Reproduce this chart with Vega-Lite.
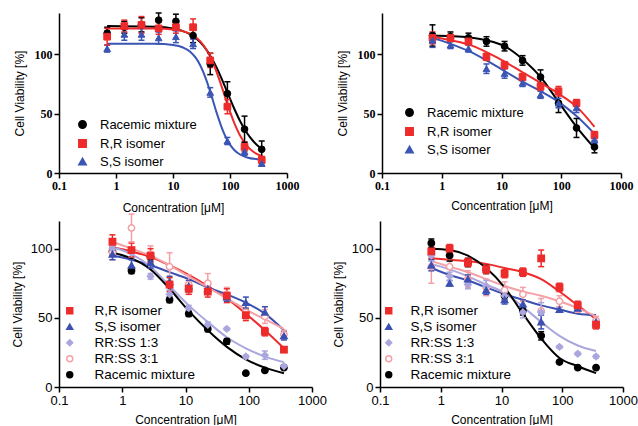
{
"$schema": "https://vega.github.io/schema/vega-lite/v6.json",
"background": "white",
"padding": {"left": 11, "top": 12, "right": 0, "bottom": 0},
"config": {
  "view": {"stroke": null},
  "axis": {"grid": false, "domainColor": "black", "domainWidth": 1.5, "tickColor": "black", "tickWidth": 1.5, "tickSize": 5, "labelColor": "black", "titleColor": "black", "titleFont": "Liberation Sans", "titleFontWeight": "normal", "titleFontSize": 12, "labelFlush": false, "labelOverlap": false}
},
"datasets": {
  "pts": [
    {"p":"A","s":"Racemic mixture","c":0.7,"v":118,"lo":113,"hi":123},
    {"p":"A","s":"Racemic mixture","c":1.4,"v":123,"lo":118,"hi":128},
    {"p":"A","s":"Racemic mixture","c":2.8,"v":125,"lo":119,"hi":131},
    {"p":"A","s":"Racemic mixture","c":5.6,"v":129,"lo":123,"hi":135},
    {"p":"A","s":"Racemic mixture","c":11.25,"v":128,"lo":122,"hi":134},
    {"p":"A","s":"Racemic mixture","c":22.5,"v":116,"lo":110,"hi":122},
    {"p":"A","s":"Racemic mixture","c":45,"v":92,"lo":83,"hi":101},
    {"p":"A","s":"Racemic mixture","c":90,"v":67,"lo":57,"hi":77},
    {"p":"A","s":"Racemic mixture","c":180,"v":37,"lo":26,"hi":48},
    {"p":"A","s":"Racemic mixture","c":360,"v":20,"lo":13,"hi":27},
    {"p":"A","s":"R,R isomer","c":0.7,"v":115,"lo":108,"hi":122},
    {"p":"A","s":"R,R isomer","c":1.4,"v":124,"lo":119,"hi":129},
    {"p":"A","s":"R,R isomer","c":2.8,"v":125,"lo":118,"hi":132},
    {"p":"A","s":"R,R isomer","c":5.6,"v":122,"lo":117,"hi":127},
    {"p":"A","s":"R,R isomer","c":11.25,"v":123,"lo":118,"hi":128},
    {"p":"A","s":"R,R isomer","c":22.5,"v":123,"lo":116,"hi":130},
    {"p":"A","s":"R,R isomer","c":45,"v":95,"lo":89,"hi":101},
    {"p":"A","s":"R,R isomer","c":90,"v":56,"lo":50,"hi":62},
    {"p":"A","s":"R,R isomer","c":180,"v":22,"lo":18,"hi":26},
    {"p":"A","s":"R,R isomer","c":360,"v":11,"lo":8,"hi":14},
    {"p":"A","s":"S,S isomer","c":0.7,"v":105,"lo":102,"hi":108},
    {"p":"A","s":"S,S isomer","c":1.4,"v":117,"lo":112,"hi":122},
    {"p":"A","s":"S,S isomer","c":2.8,"v":117,"lo":112,"hi":122},
    {"p":"A","s":"S,S isomer","c":5.6,"v":114,"lo":109,"hi":119},
    {"p":"A","s":"S,S isomer","c":11.25,"v":115,"lo":110,"hi":120},
    {"p":"A","s":"S,S isomer","c":22.5,"v":109,"lo":105,"hi":113},
    {"p":"A","s":"S,S isomer","c":45,"v":68,"lo":64,"hi":72},
    {"p":"A","s":"S,S isomer","c":90,"v":27,"lo":24,"hi":30},
    {"p":"A","s":"S,S isomer","c":180,"v":18,"lo":15,"hi":21},
    {"p":"A","s":"S,S isomer","c":360,"v":8,"lo":6,"hi":10},

    {"p":"B","s":"Racemic mixture","c":0.7,"v":116,"lo":107,"hi":125},
    {"p":"B","s":"Racemic mixture","c":1.4,"v":115,"lo":111,"hi":119},
    {"p":"B","s":"Racemic mixture","c":2.8,"v":114,"lo":110,"hi":118},
    {"p":"B","s":"Racemic mixture","c":5.6,"v":111,"lo":107,"hi":115},
    {"p":"B","s":"Racemic mixture","c":11.25,"v":107,"lo":103,"hi":111},
    {"p":"B","s":"Racemic mixture","c":22.5,"v":95,"lo":91,"hi":99},
    {"p":"B","s":"Racemic mixture","c":45,"v":81,"lo":75,"hi":87},
    {"p":"B","s":"Racemic mixture","c":90,"v":59,"lo":51,"hi":67},
    {"p":"B","s":"Racemic mixture","c":180,"v":38,"lo":30,"hi":46},
    {"p":"B","s":"Racemic mixture","c":360,"v":22,"lo":17,"hi":27},
    {"p":"B","s":"R,R isomer","c":0.7,"v":114,"lo":109,"hi":119},
    {"p":"B","s":"R,R isomer","c":1.4,"v":114,"lo":111,"hi":117},
    {"p":"B","s":"R,R isomer","c":2.8,"v":111,"lo":108,"hi":114},
    {"p":"B","s":"R,R isomer","c":5.6,"v":98,"lo":95,"hi":101},
    {"p":"B","s":"R,R isomer","c":11.25,"v":91,"lo":88,"hi":94},
    {"p":"B","s":"R,R isomer","c":22.5,"v":81,"lo":78,"hi":84},
    {"p":"B","s":"R,R isomer","c":45,"v":73,"lo":70,"hi":76},
    {"p":"B","s":"R,R isomer","c":90,"v":69,"lo":65,"hi":73},
    {"p":"B","s":"R,R isomer","c":180,"v":59,"lo":56,"hi":62},
    {"p":"B","s":"R,R isomer","c":360,"v":32,"lo":29,"hi":35},
    {"p":"B","s":"S,S isomer","c":0.7,"v":112,"lo":106,"hi":118},
    {"p":"B","s":"S,S isomer","c":1.4,"v":108,"lo":105,"hi":111},
    {"p":"B","s":"S,S isomer","c":2.8,"v":105,"lo":102,"hi":108},
    {"p":"B","s":"S,S isomer","c":5.6,"v":88,"lo":84,"hi":92},
    {"p":"B","s":"S,S isomer","c":11.25,"v":84,"lo":80,"hi":88},
    {"p":"B","s":"S,S isomer","c":22.5,"v":76,"lo":73,"hi":79},
    {"p":"B","s":"S,S isomer","c":45,"v":66,"lo":63,"hi":69},
    {"p":"B","s":"S,S isomer","c":90,"v":59,"lo":55,"hi":63},
    {"p":"B","s":"S,S isomer","c":180,"v":55,"lo":51,"hi":59},
    {"p":"B","s":"S,S isomer","c":360,"v":28,"lo":25,"hi":31},

    {"p":"C","s":"Racemic mixture","c":0.7,"v":98,"lo":95,"hi":101},
    {"p":"C","s":"Racemic mixture","c":1.4,"v":84,"lo":82,"hi":86},
    {"p":"C","s":"Racemic mixture","c":2.8,"v":94,"lo":91,"hi":97},
    {"p":"C","s":"Racemic mixture","c":5.6,"v":63,"lo":61,"hi":65},
    {"p":"C","s":"Racemic mixture","c":11.25,"v":53,"lo":51,"hi":55},
    {"p":"C","s":"Racemic mixture","c":22.5,"v":42,"lo":40,"hi":44},
    {"p":"C","s":"Racemic mixture","c":45,"v":33,"lo":31,"hi":35},
    {"p":"C","s":"Racemic mixture","c":90,"v":10,"lo":10,"hi":10},
    {"p":"C","s":"Racemic mixture","c":180,"v":12,"lo":12,"hi":12},
    {"p":"C","s":"Racemic mixture","c":360,"v":14,"lo":14,"hi":14},
    {"p":"C","s":"RR:SS 3:1","c":0.7,"v":97,"lo":92,"hi":102},
    {"p":"C","s":"RR:SS 3:1","c":1.4,"v":115,"lo":105,"hi":125},
    {"p":"C","s":"RR:SS 3:1","c":2.8,"v":96,"lo":90,"hi":102},
    {"p":"C","s":"RR:SS 3:1","c":5.6,"v":87,"lo":77,"hi":97},
    {"p":"C","s":"RR:SS 3:1","c":11.25,"v":74,"lo":67,"hi":81},
    {"p":"C","s":"RR:SS 3:1","c":22.5,"v":75,"lo":68,"hi":82},
    {"p":"C","s":"RR:SS 3:1","c":45,"v":67,"lo":62,"hi":72},
    {"p":"C","s":"RR:SS 3:1","c":90,"v":54,"lo":49,"hi":59},
    {"p":"C","s":"RR:SS 3:1","c":180,"v":51,"lo":46,"hi":56},
    {"p":"C","s":"RR:SS 3:1","c":360,"v":38,"lo":35,"hi":41},
    {"p":"C","s":"RR:SS 1:3","c":0.7,"v":100,"lo":97,"hi":103},
    {"p":"C","s":"RR:SS 1:3","c":1.4,"v":97,"lo":94,"hi":100},
    {"p":"C","s":"RR:SS 1:3","c":2.8,"v":80,"lo":78,"hi":82},
    {"p":"C","s":"RR:SS 1:3","c":5.6,"v":67,"lo":64,"hi":70},
    {"p":"C","s":"RR:SS 1:3","c":11.25,"v":57,"lo":55,"hi":59},
    {"p":"C","s":"RR:SS 1:3","c":22.5,"v":45,"lo":43,"hi":47},
    {"p":"C","s":"RR:SS 1:3","c":45,"v":42,"lo":41,"hi":43},
    {"p":"C","s":"RR:SS 1:3","c":90,"v":22,"lo":21,"hi":23},
    {"p":"C","s":"RR:SS 1:3","c":180,"v":23,"lo":20,"hi":26},
    {"p":"C","s":"RR:SS 1:3","c":360,"v":15,"lo":14,"hi":16},
    {"p":"C","s":"S,S isomer","c":0.7,"v":96,"lo":92,"hi":100},
    {"p":"C","s":"S,S isomer","c":1.4,"v":88,"lo":84,"hi":92},
    {"p":"C","s":"S,S isomer","c":2.8,"v":90,"lo":86,"hi":94},
    {"p":"C","s":"S,S isomer","c":5.6,"v":76,"lo":72,"hi":80},
    {"p":"C","s":"S,S isomer","c":11.25,"v":73,"lo":69,"hi":77},
    {"p":"C","s":"S,S isomer","c":22.5,"v":71,"lo":68,"hi":74},
    {"p":"C","s":"S,S isomer","c":45,"v":65,"lo":62,"hi":68},
    {"p":"C","s":"S,S isomer","c":90,"v":61,"lo":57,"hi":65},
    {"p":"C","s":"S,S isomer","c":180,"v":54,"lo":50,"hi":58},
    {"p":"C","s":"S,S isomer","c":360,"v":37,"lo":34,"hi":40},
    {"p":"C","s":"R,R isomer","c":0.7,"v":105,"lo":100,"hi":110},
    {"p":"C","s":"R,R isomer","c":1.4,"v":99,"lo":94,"hi":104},
    {"p":"C","s":"R,R isomer","c":2.8,"v":95,"lo":90,"hi":100},
    {"p":"C","s":"R,R isomer","c":5.6,"v":74,"lo":69,"hi":79},
    {"p":"C","s":"R,R isomer","c":11.25,"v":71,"lo":67,"hi":75},
    {"p":"C","s":"R,R isomer","c":22.5,"v":69,"lo":65,"hi":73},
    {"p":"C","s":"R,R isomer","c":45,"v":66,"lo":61,"hi":71},
    {"p":"C","s":"R,R isomer","c":90,"v":52,"lo":48,"hi":56},
    {"p":"C","s":"R,R isomer","c":180,"v":40,"lo":37,"hi":43},
    {"p":"C","s":"R,R isomer","c":360,"v":27,"lo":25,"hi":29},

    {"p":"D","s":"Racemic mixture","c":0.7,"v":104,"lo":101,"hi":107},
    {"p":"D","s":"Racemic mixture","c":1.4,"v":95,"lo":91,"hi":99},
    {"p":"D","s":"Racemic mixture","c":2.8,"v":90,"lo":87,"hi":93},
    {"p":"D","s":"Racemic mixture","c":5.6,"v":85,"lo":82,"hi":88},
    {"p":"D","s":"Racemic mixture","c":11.25,"v":66,"lo":63,"hi":69},
    {"p":"D","s":"Racemic mixture","c":22.5,"v":55,"lo":52,"hi":58},
    {"p":"D","s":"Racemic mixture","c":45,"v":37,"lo":34,"hi":40},
    {"p":"D","s":"Racemic mixture","c":90,"v":18,"lo":18,"hi":18},
    {"p":"D","s":"Racemic mixture","c":180,"v":14,"lo":14,"hi":14},
    {"p":"D","s":"Racemic mixture","c":360,"v":14,"lo":14,"hi":14},
    {"p":"D","s":"RR:SS 3:1","c":0.7,"v":87,"lo":75,"hi":99},
    {"p":"D","s":"RR:SS 3:1","c":1.4,"v":87,"lo":81,"hi":93},
    {"p":"D","s":"RR:SS 3:1","c":2.8,"v":78,"lo":72,"hi":84},
    {"p":"D","s":"RR:SS 3:1","c":5.6,"v":72,"lo":66,"hi":78},
    {"p":"D","s":"RR:SS 3:1","c":11.25,"v":70,"lo":64,"hi":76},
    {"p":"D","s":"RR:SS 3:1","c":22.5,"v":67,"lo":62,"hi":72},
    {"p":"D","s":"RR:SS 3:1","c":45,"v":55,"lo":46,"hi":64},
    {"p":"D","s":"RR:SS 3:1","c":90,"v":62,"lo":58,"hi":66},
    {"p":"D","s":"RR:SS 3:1","c":180,"v":57,"lo":54,"hi":60},
    {"p":"D","s":"RR:SS 3:1","c":360,"v":48,"lo":45,"hi":51},
    {"p":"D","s":"RR:SS 1:3","c":0.7,"v":95,"lo":91,"hi":99},
    {"p":"D","s":"RR:SS 1:3","c":1.4,"v":80,"lo":77,"hi":83},
    {"p":"D","s":"RR:SS 1:3","c":2.8,"v":74,"lo":71,"hi":77},
    {"p":"D","s":"RR:SS 1:3","c":5.6,"v":73,"lo":69,"hi":77},
    {"p":"D","s":"RR:SS 1:3","c":11.25,"v":66,"lo":63,"hi":69},
    {"p":"D","s":"RR:SS 1:3","c":22.5,"v":54,"lo":50,"hi":58},
    {"p":"D","s":"RR:SS 1:3","c":45,"v":54,"lo":47,"hi":61},
    {"p":"D","s":"RR:SS 1:3","c":90,"v":29,"lo":28,"hi":30},
    {"p":"D","s":"RR:SS 1:3","c":180,"v":24,"lo":23,"hi":25},
    {"p":"D","s":"RR:SS 1:3","c":360,"v":22,"lo":21,"hi":23},
    {"p":"D","s":"S,S isomer","c":0.7,"v":88,"lo":84,"hi":92},
    {"p":"D","s":"S,S isomer","c":1.4,"v":75,"lo":73,"hi":77},
    {"p":"D","s":"S,S isomer","c":2.8,"v":78,"lo":75,"hi":81},
    {"p":"D","s":"S,S isomer","c":5.6,"v":70,"lo":67,"hi":73},
    {"p":"D","s":"S,S isomer","c":11.25,"v":63,"lo":60,"hi":66},
    {"p":"D","s":"S,S isomer","c":22.5,"v":60,"lo":57,"hi":63},
    {"p":"D","s":"S,S isomer","c":45,"v":47,"lo":42,"hi":52},
    {"p":"D","s":"S,S isomer","c":90,"v":56,"lo":54,"hi":58},
    {"p":"D","s":"S,S isomer","c":180,"v":57,"lo":55,"hi":59},
    {"p":"D","s":"S,S isomer","c":360,"v":47,"lo":45,"hi":49},
    {"p":"D","s":"R,R isomer","c":0.7,"v":98,"lo":93,"hi":103},
    {"p":"D","s":"R,R isomer","c":1.4,"v":100,"lo":97,"hi":103},
    {"p":"D","s":"R,R isomer","c":2.8,"v":90,"lo":87,"hi":93},
    {"p":"D","s":"R,R isomer","c":5.6,"v":85,"lo":82,"hi":88},
    {"p":"D","s":"R,R isomer","c":11.25,"v":82,"lo":79,"hi":85},
    {"p":"D","s":"R,R isomer","c":22.5,"v":83,"lo":80,"hi":86},
    {"p":"D","s":"R,R isomer","c":45,"v":93,"lo":87,"hi":99},
    {"p":"D","s":"R,R isomer","c":90,"v":72,"lo":69,"hi":75},
    {"p":"D","s":"R,R isomer","c":180,"v":59,"lo":56,"hi":62},
    {"p":"D","s":"R,R isomer","c":360,"v":45,"lo":42,"hi":48}
  ],
  "fit": [
    {"p":"A","s":"Racemic mixture","c":0.7,"v":124},{"p":"A","s":"Racemic mixture","c":5,"v":123.4},{"p":"A","s":"Racemic mixture","c":10,"v":121.9},{"p":"A","s":"Racemic mixture","c":15,"v":119.7},{"p":"A","s":"Racemic mixture","c":20,"v":117},{"p":"A","s":"Racemic mixture","c":30,"v":110.4},{"p":"A","s":"Racemic mixture","c":40,"v":102.9},{"p":"A","s":"Racemic mixture","c":50,"v":95.1},{"p":"A","s":"Racemic mixture","c":60,"v":87.6},{"p":"A","s":"Racemic mixture","c":70,"v":80.5},{"p":"A","s":"Racemic mixture","c":80,"v":73.9},{"p":"A","s":"Racemic mixture","c":100,"v":62.7},{"p":"A","s":"Racemic mixture","c":120,"v":53.8},{"p":"A","s":"Racemic mixture","c":150,"v":43.9},{"p":"A","s":"Racemic mixture","c":200,"v":33.5},{"p":"A","s":"Racemic mixture","c":250,"v":27.4},{"p":"A","s":"Racemic mixture","c":300,"v":23.5},{"p":"A","s":"Racemic mixture","c":360,"v":20.5},
    {"p":"A","s":"R,R isomer","c":0.7,"v":122},{"p":"A","s":"R,R isomer","c":5,"v":121.9},{"p":"A","s":"R,R isomer","c":10,"v":121.1},{"p":"A","s":"R,R isomer","c":15,"v":119.6},{"p":"A","s":"R,R isomer","c":20,"v":117.5},{"p":"A","s":"R,R isomer","c":30,"v":111.2},{"p":"A","s":"R,R isomer","c":40,"v":102.8},{"p":"A","s":"R,R isomer","c":50,"v":93.3},{"p":"A","s":"R,R isomer","c":60,"v":83.5},{"p":"A","s":"R,R isomer","c":70,"v":74.2},{"p":"A","s":"R,R isomer","c":80,"v":65.7},{"p":"A","s":"R,R isomer","c":100,"v":51.8},{"p":"A","s":"R,R isomer","c":120,"v":41.7},{"p":"A","s":"R,R isomer","c":150,"v":31.7},{"p":"A","s":"R,R isomer","c":200,"v":22.7},{"p":"A","s":"R,R isomer","c":250,"v":18.3},{"p":"A","s":"R,R isomer","c":300,"v":15.9},{"p":"A","s":"R,R isomer","c":360,"v":14.3},
    {"p":"A","s":"S,S isomer","c":0.7,"v":109},{"p":"A","s":"S,S isomer","c":5,"v":109},{"p":"A","s":"S,S isomer","c":10,"v":108},{"p":"A","s":"S,S isomer","c":15,"v":105.9},{"p":"A","s":"S,S isomer","c":20,"v":102.4},{"p":"A","s":"S,S isomer","c":25,"v":97.3},{"p":"A","s":"S,S isomer","c":30,"v":90.9},{"p":"A","s":"S,S isomer","c":40,"v":76.1},{"p":"A","s":"S,S isomer","c":50,"v":61.4},{"p":"A","s":"S,S isomer","c":60,"v":49},{"p":"A","s":"S,S isomer","c":70,"v":39.6},{"p":"A","s":"S,S isomer","c":80,"v":32.6},{"p":"A","s":"S,S isomer","c":100,"v":23.9},{"p":"A","s":"S,S isomer","c":120,"v":19.2},{"p":"A","s":"S,S isomer","c":150,"v":15.6},{"p":"A","s":"S,S isomer","c":200,"v":13.1},{"p":"A","s":"S,S isomer","c":300,"v":11.7},{"p":"A","s":"S,S isomer","c":360,"v":11.4},

    {"p":"B","s":"Racemic mixture","c":0.7,"v":116},{"p":"B","s":"Racemic mixture","c":1.4,"v":115.5},{"p":"B","s":"Racemic mixture","c":2.8,"v":114.5},{"p":"B","s":"Racemic mixture","c":5.6,"v":112},{"p":"B","s":"Racemic mixture","c":11.25,"v":107},{"p":"B","s":"Racemic mixture","c":22.5,"v":96},{"p":"B","s":"Racemic mixture","c":45,"v":81},{"p":"B","s":"Racemic mixture","c":90,"v":60},{"p":"B","s":"Racemic mixture","c":180,"v":39},{"p":"B","s":"Racemic mixture","c":360,"v":21},
    {"p":"B","s":"R,R isomer","c":0.7,"v":115},{"p":"B","s":"R,R isomer","c":1.4,"v":112},{"p":"B","s":"R,R isomer","c":2.8,"v":108.5},{"p":"B","s":"R,R isomer","c":5.6,"v":102},{"p":"B","s":"R,R isomer","c":11.25,"v":94},{"p":"B","s":"R,R isomer","c":22.5,"v":85},{"p":"B","s":"R,R isomer","c":45,"v":76},{"p":"B","s":"R,R isomer","c":90,"v":67},{"p":"B","s":"R,R isomer","c":180,"v":56},{"p":"B","s":"R,R isomer","c":360,"v":39},
    {"p":"B","s":"S,S isomer","c":0.7,"v":114},{"p":"B","s":"S,S isomer","c":1.4,"v":109},{"p":"B","s":"S,S isomer","c":2.8,"v":103},{"p":"B","s":"S,S isomer","c":5.6,"v":95},{"p":"B","s":"S,S isomer","c":11.25,"v":86},{"p":"B","s":"S,S isomer","c":22.5,"v":77},{"p":"B","s":"S,S isomer","c":45,"v":69},{"p":"B","s":"S,S isomer","c":90,"v":60},{"p":"B","s":"S,S isomer","c":180,"v":48},{"p":"B","s":"S,S isomer","c":360,"v":33},

    {"p":"C","s":"R,R isomer","c":0.7,"v":101},{"p":"C","s":"R,R isomer","c":1.4,"v":98},{"p":"C","s":"R,R isomer","c":2.8,"v":94},{"p":"C","s":"R,R isomer","c":5.6,"v":88},{"p":"C","s":"R,R isomer","c":11.25,"v":81},{"p":"C","s":"R,R isomer","c":22.5,"v":73},{"p":"C","s":"R,R isomer","c":45,"v":64},{"p":"C","s":"R,R isomer","c":90,"v":53},{"p":"C","s":"R,R isomer","c":180,"v":41},{"p":"C","s":"R,R isomer","c":360,"v":28},
    {"p":"C","s":"S,S isomer","c":0.7,"v":95},{"p":"C","s":"S,S isomer","c":1.4,"v":92},{"p":"C","s":"S,S isomer","c":2.8,"v":88},{"p":"C","s":"S,S isomer","c":5.6,"v":83},{"p":"C","s":"S,S isomer","c":11.25,"v":78},{"p":"C","s":"S,S isomer","c":22.5,"v":72},{"p":"C","s":"S,S isomer","c":45,"v":67},{"p":"C","s":"S,S isomer","c":90,"v":61},{"p":"C","s":"S,S isomer","c":180,"v":53},{"p":"C","s":"S,S isomer","c":360,"v":41},
    {"p":"C","s":"RR:SS 3:1","c":0.7,"v":105},{"p":"C","s":"RR:SS 3:1","c":1.4,"v":100},{"p":"C","s":"RR:SS 3:1","c":2.8,"v":95},{"p":"C","s":"RR:SS 3:1","c":5.6,"v":88},{"p":"C","s":"RR:SS 3:1","c":11.25,"v":80},{"p":"C","s":"RR:SS 3:1","c":22.5,"v":72},{"p":"C","s":"RR:SS 3:1","c":45,"v":64},{"p":"C","s":"RR:SS 3:1","c":90,"v":56},{"p":"C","s":"RR:SS 3:1","c":180,"v":49},{"p":"C","s":"RR:SS 3:1","c":360,"v":42},
    {"p":"C","s":"RR:SS 1:3","c":0.7,"v":101},{"p":"C","s":"RR:SS 1:3","c":1.4,"v":96},{"p":"C","s":"RR:SS 1:3","c":2.8,"v":87},{"p":"C","s":"RR:SS 1:3","c":5.6,"v":73},{"p":"C","s":"RR:SS 1:3","c":11.25,"v":59},{"p":"C","s":"RR:SS 1:3","c":22.5,"v":47},{"p":"C","s":"RR:SS 1:3","c":45,"v":36},{"p":"C","s":"RR:SS 1:3","c":90,"v":28},{"p":"C","s":"RR:SS 1:3","c":180,"v":22},{"p":"C","s":"RR:SS 1:3","c":360,"v":18},
    {"p":"C","s":"Racemic mixture","c":0.7,"v":97},{"p":"C","s":"Racemic mixture","c":1.4,"v":93},{"p":"C","s":"Racemic mixture","c":2.8,"v":85},{"p":"C","s":"Racemic mixture","c":5.6,"v":71},{"p":"C","s":"Racemic mixture","c":11.25,"v":55},{"p":"C","s":"Racemic mixture","c":22.5,"v":41},{"p":"C","s":"Racemic mixture","c":45,"v":29},{"p":"C","s":"Racemic mixture","c":90,"v":20},{"p":"C","s":"Racemic mixture","c":180,"v":14},{"p":"C","s":"Racemic mixture","c":360,"v":10},

    {"p":"D","s":"R,R isomer","c":0.7,"v":93},{"p":"D","s":"R,R isomer","c":1.4,"v":92},{"p":"D","s":"R,R isomer","c":2.8,"v":91},{"p":"D","s":"R,R isomer","c":5.6,"v":89},{"p":"D","s":"R,R isomer","c":11.25,"v":86},{"p":"D","s":"R,R isomer","c":22.5,"v":83},{"p":"D","s":"R,R isomer","c":45,"v":78},{"p":"D","s":"R,R isomer","c":90,"v":69},{"p":"D","s":"R,R isomer","c":180,"v":59},{"p":"D","s":"R,R isomer","c":360,"v":49},
    {"p":"D","s":"S,S isomer","c":0.7,"v":86},{"p":"D","s":"S,S isomer","c":1.4,"v":81},{"p":"D","s":"S,S isomer","c":2.8,"v":77},{"p":"D","s":"S,S isomer","c":5.6,"v":72},{"p":"D","s":"S,S isomer","c":11.25,"v":67},{"p":"D","s":"S,S isomer","c":22.5,"v":63},{"p":"D","s":"S,S isomer","c":45,"v":59},{"p":"D","s":"S,S isomer","c":90,"v":56},{"p":"D","s":"S,S isomer","c":180,"v":53},{"p":"D","s":"S,S isomer","c":360,"v":52},
    {"p":"D","s":"RR:SS 3:1","c":0.7,"v":91},{"p":"D","s":"RR:SS 3:1","c":1.4,"v":87},{"p":"D","s":"RR:SS 3:1","c":2.8,"v":83},{"p":"D","s":"RR:SS 3:1","c":5.6,"v":78},{"p":"D","s":"RR:SS 3:1","c":11.25,"v":73},{"p":"D","s":"RR:SS 3:1","c":22.5,"v":69},{"p":"D","s":"RR:SS 3:1","c":45,"v":66},{"p":"D","s":"RR:SS 3:1","c":90,"v":62},{"p":"D","s":"RR:SS 3:1","c":180,"v":57},{"p":"D","s":"RR:SS 3:1","c":360,"v":51},
    {"p":"D","s":"RR:SS 1:3","c":0.7,"v":89},{"p":"D","s":"RR:SS 1:3","c":1.4,"v":85},{"p":"D","s":"RR:SS 1:3","c":2.8,"v":80},{"p":"D","s":"RR:SS 1:3","c":5.6,"v":74},{"p":"D","s":"RR:SS 1:3","c":11.25,"v":68},{"p":"D","s":"RR:SS 1:3","c":22.5,"v":58},{"p":"D","s":"RR:SS 1:3","c":45,"v":47},{"p":"D","s":"RR:SS 1:3","c":90,"v":37},{"p":"D","s":"RR:SS 1:3","c":180,"v":30},{"p":"D","s":"RR:SS 1:3","c":360,"v":26},
    {"p":"D","s":"Racemic mixture","c":0.7,"v":100},{"p":"D","s":"Racemic mixture","c":1.4,"v":99},{"p":"D","s":"Racemic mixture","c":2.8,"v":95},{"p":"D","s":"Racemic mixture","c":5.6,"v":86},{"p":"D","s":"Racemic mixture","c":11.25,"v":72},{"p":"D","s":"Racemic mixture","c":22.5,"v":53},{"p":"D","s":"Racemic mixture","c":45,"v":35},{"p":"D","s":"Racemic mixture","c":90,"v":21},{"p":"D","s":"Racemic mixture","c":180,"v":15},{"p":"D","s":"Racemic mixture","c":360,"v":10}
  ]
},
"spacing": 0,
"resolve": {"scale": {"color": "independent", "fill": "independent", "stroke": "independent", "shape": "independent", "x": "independent", "y": "independent"}, "legend": {"color": "independent", "fill": "independent", "stroke": "independent", "shape": "independent"}},
"vconcat": [
  {
    "bounds": "flush",
    "spacing": 95,
    "resolve": {"scale": {"color": "independent", "fill": "independent", "stroke": "independent", "shape": "independent", "x": "independent", "y": "independent"}, "legend": {"color": "independent", "fill": "independent", "stroke": "independent", "shape": "independent"}},
    "hconcat": [
      {
        "width": 228, "height": 160,
        "layer": [
          {"data": {"name": "fit"}, "transform": [{"filter": "datum.p === 'A'"}],
           "mark": {"type": "line", "strokeWidth": 2, "interpolate": "monotone"},
           "encoding": {
             "x": {"field": "c", "type": "quantitative", "scale": {"type": "log", "domain": [0.1, 1000]}, "axis": {"title": "Concentration [μM]", "values": [0.1, 1, 10, 100, 1000], "format": "~g", "labelFont": "Liberation Serif", "labelFontWeight": "bold", "labelFontSize": 12, "titlePadding": 11}},
             "y": {"field": "v", "type": "quantitative", "scale": {"domain": [0, 135], "nice": false}, "axis": {"title": "Cell Viability [%]", "values": [0, 50, 100], "labelFont": "Liberation Serif", "labelFontWeight": "bold", "labelFontSize": 12, "titlePadding": 8}},
             "color": {"field": "s", "type": "nominal", "scale": {"domain": ["S,S isomer", "R,R isomer", "Racemic mixture"], "range": ["#3b55b5", "#ee2b2b", "#000000"]}, "legend": null},
             "detail": {"field": "s"}
           }},
          {"data": {"name": "pts"}, "transform": [{"filter": "datum.p === 'A'"}],
           "mark": {"type": "rule", "strokeWidth": 1.5},
           "encoding": {
             "x": {"field": "c", "type": "quantitative"},
             "y": {"field": "lo", "type": "quantitative"},
             "y2": {"field": "hi"},
             "color": {"field": "s", "type": "nominal", "legend": null}
           }},
          {"data": {"name": "pts"}, "transform": [{"filter": "datum.p === 'A'"}],
           "mark": {"type": "tick", "orient": "horizontal", "size": 6, "thickness": 1.5, "opacity": 1},
           "encoding": {
             "x": {"field": "c", "type": "quantitative"},
             "y": {"field": "hi", "type": "quantitative"},
             "color": {"field": "s", "type": "nominal", "legend": null}
           }},
          {"data": {"name": "pts"}, "transform": [{"filter": "datum.p === 'A'"}],
           "mark": {"type": "tick", "orient": "horizontal", "size": 6, "thickness": 1.5, "opacity": 1},
           "encoding": {
             "x": {"field": "c", "type": "quantitative"},
             "y": {"field": "lo", "type": "quantitative"},
             "color": {"field": "s", "type": "nominal", "legend": null}
           }},
          {"data": {"name": "pts"}, "transform": [{"filter": "datum.p === 'A'"}],
           "mark": {"type": "point", "filled": true, "opacity": 1, "size": 45, "strokeWidth": 1},
           "encoding": {
             "x": {"field": "c", "type": "quantitative"},
             "y": {"field": "v", "type": "quantitative"},
             "fill": {"field": "s", "type": "nominal", "scale": {"domain": ["Racemic mixture", "R,R isomer", "S,S isomer"], "range": ["#000000", "#ee2b2b", "#3b55b5"]}, "legend": {"title": null, "orient": "none", "legendX": 17, "legendY": 105, "padding": 0, "labelFont": "Liberation Sans", "labelFontSize": 13, "labelColor": "black", "symbolSize": 55, "rowPadding": 4, "labelOffset": 11}},
             "stroke": {"field": "s", "type": "nominal", "scale": {"domain": ["Racemic mixture", "R,R isomer", "S,S isomer"], "range": ["#000000", "#ee2b2b", "#3b55b5"]}, "legend": {"title": null, "orient": "none", "legendX": 17, "legendY": 105, "padding": 0, "labelFont": "Liberation Sans", "labelFontSize": 13, "labelColor": "black", "symbolSize": 55, "rowPadding": 4, "labelOffset": 11}},
             "shape": {"field": "s", "type": "nominal", "scale": {"domain": ["Racemic mixture", "R,R isomer", "S,S isomer"], "range": ["circle", "square", "triangle-up"]}, "legend": {"title": null, "orient": "none", "legendX": 17, "legendY": 105, "padding": 0, "labelFont": "Liberation Sans", "labelFontSize": 13, "labelColor": "black", "symbolSize": 55, "rowPadding": 4, "labelOffset": 11}}
           }}
        ]
      },
      {
        "width": 239, "height": 160,
        "layer": [
          {"data": {"name": "fit"}, "transform": [{"filter": "datum.p === 'B'"}],
           "mark": {"type": "line", "strokeWidth": 2, "interpolate": "monotone"},
           "encoding": {
             "x": {"field": "c", "type": "quantitative", "scale": {"type": "log", "domain": [0.1, 1000]}, "axis": {"title": "Concentration [μM]", "values": [0.1, 1, 10, 100, 1000], "format": "~g", "labelFont": "Liberation Serif", "labelFontWeight": "bold", "labelFontSize": 12, "titlePadding": 9}},
             "y": {"field": "v", "type": "quantitative", "scale": {"domain": [0, 135], "nice": false}, "axis": {"title": "Cell Viability [%]", "values": [0, 50, 100], "labelFont": "Liberation Serif", "labelFontWeight": "bold", "labelFontSize": 12, "titlePadding": 8}},
             "color": {"field": "s", "type": "nominal", "scale": {"domain": ["S,S isomer", "R,R isomer", "Racemic mixture"], "range": ["#3b55b5", "#ee2b2b", "#000000"]}, "legend": null},
             "detail": {"field": "s"}
           }},
          {"data": {"name": "pts"}, "transform": [{"filter": "datum.p === 'B'"}],
           "mark": {"type": "rule", "strokeWidth": 1.5},
           "encoding": {
             "x": {"field": "c", "type": "quantitative"},
             "y": {"field": "lo", "type": "quantitative"},
             "y2": {"field": "hi"},
             "color": {"field": "s", "type": "nominal", "legend": null}
           }},
          {"data": {"name": "pts"}, "transform": [{"filter": "datum.p === 'B'"}],
           "mark": {"type": "tick", "orient": "horizontal", "size": 6, "thickness": 1.5, "opacity": 1},
           "encoding": {
             "x": {"field": "c", "type": "quantitative"},
             "y": {"field": "hi", "type": "quantitative"},
             "color": {"field": "s", "type": "nominal", "legend": null}
           }},
          {"data": {"name": "pts"}, "transform": [{"filter": "datum.p === 'B'"}],
           "mark": {"type": "tick", "orient": "horizontal", "size": 6, "thickness": 1.5, "opacity": 1},
           "encoding": {
             "x": {"field": "c", "type": "quantitative"},
             "y": {"field": "lo", "type": "quantitative"},
             "color": {"field": "s", "type": "nominal", "legend": null}
           }},
          {"data": {"name": "pts"}, "transform": [{"filter": "datum.p === 'B'"}],
           "mark": {"type": "point", "filled": true, "opacity": 1, "size": 45, "strokeWidth": 1},
           "encoding": {
             "x": {"field": "c", "type": "quantitative"},
             "y": {"field": "v", "type": "quantitative"},
             "fill": {"field": "s", "type": "nominal", "scale": {"domain": ["Racemic mixture", "R,R isomer", "S,S isomer"], "range": ["#000000", "#ee2b2b", "#3b55b5"]}, "legend": {"title": null, "orient": "none", "legendX": 21, "legendY": 93, "padding": 0, "labelFont": "Liberation Sans", "labelFontSize": 13, "labelColor": "black", "symbolSize": 55, "rowPadding": 4, "labelOffset": 11}},
             "stroke": {"field": "s", "type": "nominal", "scale": {"domain": ["Racemic mixture", "R,R isomer", "S,S isomer"], "range": ["#000000", "#ee2b2b", "#3b55b5"]}, "legend": {"title": null, "orient": "none", "legendX": 21, "legendY": 93, "padding": 0, "labelFont": "Liberation Sans", "labelFontSize": 13, "labelColor": "black", "symbolSize": 55, "rowPadding": 4, "labelOffset": 11}},
             "shape": {"field": "s", "type": "nominal", "scale": {"domain": ["Racemic mixture", "R,R isomer", "S,S isomer"], "range": ["circle", "square", "triangle-up"]}, "legend": {"title": null, "orient": "none", "legendX": 21, "legendY": 93, "padding": 0, "labelFont": "Liberation Sans", "labelFontSize": 13, "labelColor": "black", "symbolSize": 55, "rowPadding": 4, "labelOffset": 11}}
           }}
        ]
      }
    ]
  },
  {
    "bounds": "flush",
    "spacing": 68,
    "resolve": {"scale": {"color": "independent", "fill": "independent", "stroke": "independent", "shape": "independent", "x": "independent", "y": "independent"}, "legend": {"color": "independent", "fill": "independent", "stroke": "independent", "shape": "independent"}},
    "hconcat": [
      {
        "width": 253, "height": 166,
        "layer": [
          {"data": {"name": "fit"}, "transform": [{"filter": "datum.p === 'C'"}],
           "mark": {"type": "line", "strokeWidth": 2, "interpolate": "monotone"},
           "encoding": {
             "x": {"field": "c", "type": "quantitative", "scale": {"type": "log", "domain": [0.1, 1000]}, "axis": {"title": "Concentration [μM]", "values": [0.1, 1, 10, 100, 1000], "format": "~g", "labelFont": "Liberation Sans", "labelFontSize": 13, "titlePadding": 7}},
             "y": {"field": "v", "type": "quantitative", "scale": {"domain": [0, 120], "nice": false}, "axis": {"title": "Cell Viability [%]", "values": [0, 50, 100], "labelFont": "Liberation Sans", "labelFontSize": 13, "titlePadding": 6}},
             "color": {"field": "s", "type": "nominal", "scale": {"domain": ["Racemic mixture", "RR:SS 3:1", "RR:SS 1:3", "S,S isomer", "R,R isomer"], "range": ["#000000", "#f3a0a6", "#aaa6de", "#3b50b0", "#ee2b2b"]}, "legend": null},
             "detail": {"field": "s"}
           }},
          {"data": {"name": "pts"}, "transform": [{"filter": "datum.p === 'C'"}],
           "mark": {"type": "rule", "strokeWidth": 1.5},
           "encoding": {
             "x": {"field": "c", "type": "quantitative"},
             "y": {"field": "lo", "type": "quantitative"},
             "y2": {"field": "hi"},
             "color": {"field": "s", "type": "nominal", "legend": null}
           }},
          {"data": {"name": "pts"}, "transform": [{"filter": "datum.p === 'C'"}],
           "mark": {"type": "tick", "orient": "horizontal", "size": 6, "thickness": 1.5, "opacity": 1},
           "encoding": {
             "x": {"field": "c", "type": "quantitative"},
             "y": {"field": "hi", "type": "quantitative"},
             "color": {"field": "s", "type": "nominal", "legend": null}
           }},
          {"data": {"name": "pts"}, "transform": [{"filter": "datum.p === 'C'"}],
           "mark": {"type": "tick", "orient": "horizontal", "size": 6, "thickness": 1.5, "opacity": 1},
           "encoding": {
             "x": {"field": "c", "type": "quantitative"},
             "y": {"field": "lo", "type": "quantitative"},
             "color": {"field": "s", "type": "nominal", "legend": null}
           }},
          {"data": {"name": "pts"}, "transform": [{"filter": "datum.p === 'C'"}],
           "mark": {"type": "point", "filled": true, "opacity": 1, "size": 40, "strokeWidth": 1.5},
           "encoding": {
             "x": {"field": "c", "type": "quantitative"},
             "y": {"field": "v", "type": "quantitative"},
             "fill": {"field": "s", "type": "nominal", "scale": {"domain": ["R,R isomer", "S,S isomer", "RR:SS 1:3", "RR:SS 3:1", "Racemic mixture"], "range": ["#ee2b2b", "#3b50b0", "#aaa6de", "#ffffff", "#000000"]}, "legend": {"title": null, "orient": "none", "legendX": 4, "legendY": 83, "padding": 0, "labelFont": "Liberation Sans", "labelFontSize": 13.5, "labelColor": "black", "symbolSize": 35, "rowPadding": 1, "labelOffset": 18}},
             "stroke": {"field": "s", "type": "nominal", "scale": {"domain": ["R,R isomer", "S,S isomer", "RR:SS 1:3", "RR:SS 3:1", "Racemic mixture"], "range": ["#ee2b2b", "#3b50b0", "#aaa6de", "#f3a0a6", "#000000"]}, "legend": {"title": null, "orient": "none", "legendX": 4, "legendY": 83, "padding": 0, "labelFont": "Liberation Sans", "labelFontSize": 13.5, "labelColor": "black", "symbolSize": 35, "rowPadding": 1, "labelOffset": 18}},
             "shape": {"field": "s", "type": "nominal", "scale": {"domain": ["R,R isomer", "S,S isomer", "RR:SS 1:3", "RR:SS 3:1", "Racemic mixture"], "range": ["square", "triangle-up", "diamond", "circle", "circle"]}, "legend": {"title": null, "orient": "none", "legendX": 4, "legendY": 83, "padding": 0, "labelFont": "Liberation Sans", "labelFontSize": 13.5, "labelColor": "black", "symbolSize": 35, "rowPadding": 1, "labelOffset": 18}}
           }}
        ]
      },
      {
        "width": 243, "height": 166,
        "layer": [
          {"data": {"name": "fit"}, "transform": [{"filter": "datum.p === 'D'"}],
           "mark": {"type": "line", "strokeWidth": 2, "interpolate": "monotone"},
           "encoding": {
             "x": {"field": "c", "type": "quantitative", "scale": {"type": "log", "domain": [0.1, 1000]}, "axis": {"title": "Concentration [μM]", "values": [0.1, 1, 10, 100, 1000], "format": "~g", "labelFont": "Liberation Sans", "labelFontSize": 13, "titlePadding": 7}},
             "y": {"field": "v", "type": "quantitative", "scale": {"domain": [0, 120], "nice": false}, "axis": {"title": "Cell Viability [%]", "values": [0, 50, 100], "labelFont": "Liberation Sans", "labelFontSize": 13, "titlePadding": 6}},
             "color": {"field": "s", "type": "nominal", "scale": {"domain": ["Racemic mixture", "RR:SS 3:1", "RR:SS 1:3", "S,S isomer", "R,R isomer"], "range": ["#000000", "#f3a0a6", "#aaa6de", "#3b50b0", "#ee2b2b"]}, "legend": null},
             "detail": {"field": "s"}
           }},
          {"data": {"name": "pts"}, "transform": [{"filter": "datum.p === 'D'"}],
           "mark": {"type": "rule", "strokeWidth": 1.5},
           "encoding": {
             "x": {"field": "c", "type": "quantitative"},
             "y": {"field": "lo", "type": "quantitative"},
             "y2": {"field": "hi"},
             "color": {"field": "s", "type": "nominal", "legend": null}
           }},
          {"data": {"name": "pts"}, "transform": [{"filter": "datum.p === 'D'"}],
           "mark": {"type": "tick", "orient": "horizontal", "size": 6, "thickness": 1.5, "opacity": 1},
           "encoding": {
             "x": {"field": "c", "type": "quantitative"},
             "y": {"field": "hi", "type": "quantitative"},
             "color": {"field": "s", "type": "nominal", "legend": null}
           }},
          {"data": {"name": "pts"}, "transform": [{"filter": "datum.p === 'D'"}],
           "mark": {"type": "tick", "orient": "horizontal", "size": 6, "thickness": 1.5, "opacity": 1},
           "encoding": {
             "x": {"field": "c", "type": "quantitative"},
             "y": {"field": "lo", "type": "quantitative"},
             "color": {"field": "s", "type": "nominal", "legend": null}
           }},
          {"data": {"name": "pts"}, "transform": [{"filter": "datum.p === 'D'"}],
           "mark": {"type": "point", "filled": true, "opacity": 1, "size": 40, "strokeWidth": 1.5},
           "encoding": {
             "x": {"field": "c", "type": "quantitative"},
             "y": {"field": "v", "type": "quantitative"},
             "fill": {"field": "s", "type": "nominal", "scale": {"domain": ["R,R isomer", "S,S isomer", "RR:SS 1:3", "RR:SS 3:1", "Racemic mixture"], "range": ["#ee2b2b", "#3b50b0", "#aaa6de", "#ffffff", "#000000"]}, "legend": {"title": null, "orient": "none", "legendX": 2, "legendY": 83, "padding": 0, "labelFont": "Liberation Sans", "labelFontSize": 13.5, "labelColor": "black", "symbolSize": 35, "rowPadding": 1, "labelOffset": 15}},
             "stroke": {"field": "s", "type": "nominal", "scale": {"domain": ["R,R isomer", "S,S isomer", "RR:SS 1:3", "RR:SS 3:1", "Racemic mixture"], "range": ["#ee2b2b", "#3b50b0", "#aaa6de", "#f3a0a6", "#000000"]}, "legend": {"title": null, "orient": "none", "legendX": 2, "legendY": 83, "padding": 0, "labelFont": "Liberation Sans", "labelFontSize": 13.5, "labelColor": "black", "symbolSize": 35, "rowPadding": 1, "labelOffset": 15}},
             "shape": {"field": "s", "type": "nominal", "scale": {"domain": ["R,R isomer", "S,S isomer", "RR:SS 1:3", "RR:SS 3:1", "Racemic mixture"], "range": ["square", "triangle-up", "diamond", "circle", "circle"]}, "legend": {"title": null, "orient": "none", "legendX": 2, "legendY": 83, "padding": 0, "labelFont": "Liberation Sans", "labelFontSize": 13.5, "labelColor": "black", "symbolSize": 35, "rowPadding": 1, "labelOffset": 15}}
           }}
        ]
      }
    ]
  }
]
}
